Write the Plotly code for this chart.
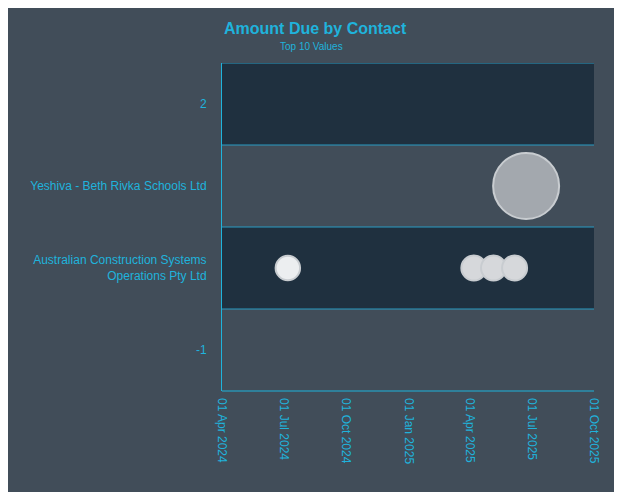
import plotly.graph_objects as go

contacts = ["Australian Construction Systems Operations Pty Ltd"] * 4 + ["Yeshiva - Beth Rivka Schools Ltd"]
y_pos = [0, 0, 0, 0, 1]
due_dates = ["2024-07-07", "2025-04-07", "2025-05-06", "2025-06-06", "2025-06-23"]
amounts = [1100, 1150, 1150, 1150, 8000]
bubble_colors = ["#eceef0", "#d6d8db", "#d6d8db", "#d6d8db", "#a3a8ae"]

tick_vals = [-1, 0, 1, 2]
tick_text = ["-1", "Australian Construction Systems<br>Operations Pty Ltd",
             "Yeshiva - Beth Rivka Schools Ltd", "2"]

OFF = 8  # page body margin
W, H = 622 - OFF, 492 - OFF
L, R, T, B = 222 - OFF, 28, 63 - OFF, 101
pw, ph = W - L - R, H - T - B
CYAN = "#1fb3dc"

fig = go.Figure(go.Scatter(
    x=due_dates, y=y_pos, mode="markers", text=contacts,
    marker=dict(size=amounts, sizemode="area", sizeref=2 * max(amounts) / 66 ** 2, opacity=1,
                color=bubble_colors, line=dict(color="#c8ccd0", width=2)),
))

shapes = []
for y0 in [1.5, -0.5]:
    shapes.append(dict(type="rect", xref="paper", yref="y", x0=0, x1=1, y0=y0, y1=y0 + 1,
                       fillcolor="#1f303f", line_width=0, layer="below"))
for yl in [2.5, 1.5, 0.5, -0.5]:
    shapes.append(dict(type="line", xref="paper", yref="y", x0=0, x1=1, y0=yl, y1=yl,
                       line=dict(color="#2a9cc4", width=1.2)))
shapes.append(dict(type="line", xref="paper", yref="paper", x0=0, x1=1, y0=0, y1=0,
                   line=dict(color=CYAN, width=1.2)))

fig.update_layout(
    width=W, height=H, margin=dict(l=L, r=R, t=T, b=B),
    paper_bgcolor="#414d59", plot_bgcolor="#414d59",
    font=dict(family="Arial", color=CYAN, size=12),
    showlegend=False, shapes=shapes,
    annotations=[
        dict(text="<b>Amount Due by Contact</b>", xref="paper", yref="paper", x=0, y=1 + 35 / ph,
             xanchor="left", yanchor="middle", showarrow=False, font=dict(size=16, color=CYAN)),
        dict(text="Top 10 Values", xref="paper", yref="paper", x=(311 - 222) / pw, y=1 + 16 / ph,
             xanchor="center", yanchor="middle", showarrow=False, font=dict(size=10, color=CYAN)),
    ],
)
fig.update_xaxes(type="date", range=["2024-04-01", "2025-10-01"], dtick="M3", tick0="2024-04-01",
                 tickformat="%d %b %Y", tickangle=90, showgrid=False, zeroline=False,
                 showline=False, ticklabelstandoff=6, tickfont=dict(size=12, color=CYAN))
fig.update_yaxes(range=[-1.5, 2.5], tickvals=tick_vals, ticktext=tick_text, showgrid=False,
                 zeroline=False, showline=True, linecolor=CYAN, ticks="", ticklabelstandoff=12,
                 tickfont=dict(size=12, color=CYAN))

fig.write_html("out.html")
